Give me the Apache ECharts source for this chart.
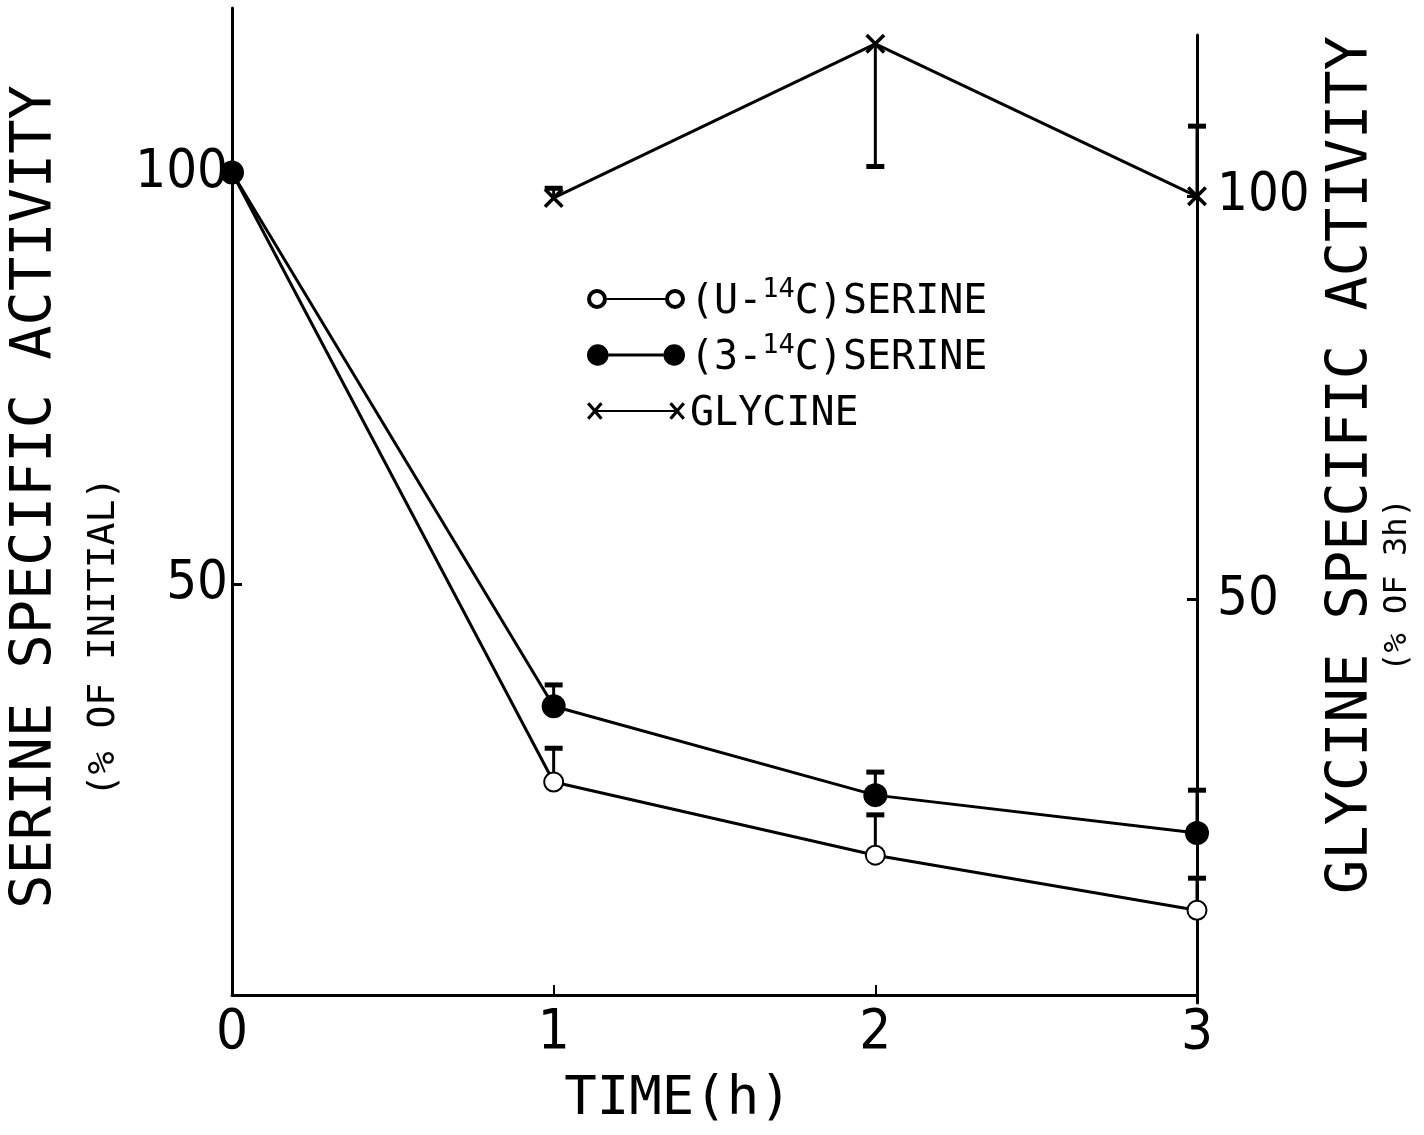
<!DOCTYPE html>
<html><head><meta charset="utf-8">
<script src="https://cdn.jsdelivr.net/npm/echarts@6/dist/echarts.min.js"></script>
<style>html,body{margin:0;padding:0;background:#fff}#c{width:1424px;height:1135px}</style>
</head><body><div id="c"></div>
<script>
// ---- data ----
const times = [0, 1, 2, 3];
const uSerine = [100, 25.9, 17.0, 10.3];
const uSerineErrTop = [null, 30.0, 21.9, 14.2];
const s3Serine = [100, 35.1, 24.3, 19.7];
const s3SerineErrTop = [null, 37.7, 27.1, 24.9];
const glyTimes = [1, 2, 3];
const glycine = [99.8, 118.9, 100.0];
const glycineErrEnd = [101.0, 103.7, 108.7];
const xTickValues = [0, 1, 2, 3];
const xInnerTicks = [1, 2];
const leftTickLabels = [50, 100];
const rightTickLabels = [50, 100];
const seriesNames = ['(U-14C)SERINE', '(3-14C)SERINE', 'GLYCINE'];
const legendRich = ['{t|(U-}{sup|14}{t|C)SERINE}', '{t|(3-}{sup|14}{t|C)SERINE}', '{t|GLYCINE}'];

// ---- styles ----
const MONO = "'DejaVu Sans Mono', monospace";
const NARROW = "'Liberation Sans Narrow', 'DejaVu Sans Condensed', 'DejaVu Sans', sans-serif";
const X_PATH = 'path://M0 1.5 L1.5 0 L6 4.5 L10.5 0 L12 1.5 L7.5 6 L12 10.5 L10.5 12 L6 7.5 L1.5 12 L0 10.5 L4.5 6 Z';
const RING_ICON = 'path://M1 11 A10 10 0 1 1 21 11 A10 10 0 1 1 1 11 Z M5 11 A6 6 0 1 0 17 11 A6 6 0 1 0 5 11 Z ' +
  'M21 10 L79 10 L79 12 L21 12 Z ' +
  'M79 11 A10 10 0 1 1 99 11 A10 10 0 1 1 79 11 Z M83 11 A6 6 0 1 0 95 11 A6 6 0 1 0 83 11 Z';
const DOT_ICON = 'path://M0 11 A11 11 0 1 1 22 11 A11 11 0 1 1 0 11 Z ' +
  'M22 9.5 L78 9.5 L78 12.5 L22 12.5 Z ' +
  'M78 11 A11 11 0 1 1 100 11 A11 11 0 1 1 78 11 Z';
const CROSS_ICON = 'path://M0 4 L2.5 2 L8 8.5 L13.5 2 L16 4 L10 11 L16 18 L13.5 20 L8 13.5 L2.5 20 L0 18 L6 11 Z ' +
  'M10 10 L90 10 L90 12 L10 12 Z ' +
  'M84 4 L86.5 2 L92 8.5 L97.5 2 L100 4 L94 11 L100 18 L97.5 20 L92 13.5 L86.5 20 L84 18 L90 11 Z';

const pairs = (xs, ys) => xs.map((x, i) => [x, ys[i]]);
const errs = (xs, ys, es) => xs.map((x, i) => es[i] == null ? null : [x, ys[i], es[i]]).filter(Boolean);

function errRender(params, api) {
  const p0 = api.coord([api.value(0), api.value(1)]);
  const p1 = api.coord([api.value(0), api.value(2)]);
  return {
    type: 'group',
    children: [
      { type: 'line', shape: { x1: p0[0], y1: p0[1], x2: p1[0], y2: p1[1] }, style: { stroke: '#000', lineWidth: 3 } },
      { type: 'line', shape: { x1: p1[0] - 9, y1: p1[1], x2: p1[0] + 9, y2: p1[1] }, style: { stroke: '#000', lineWidth: 5 } }
    ]
  };
}

const chart = echarts.init(document.getElementById('c'), null, { renderer: 'canvas' });
const axisLine = { show: true, onZero: false, lineStyle: { color: '#000', width: 3 } };

chart.setOption({
  backgroundColor: '#fff',
  animation: false,
  grid: [
    { left: 232, right: 227, top: 8, bottom: 140, containLabel: false, outerBoundsMode: 'none' },
    { left: 232, right: 227, top: 35, bottom: 132, containLabel: false, outerBoundsMode: 'none' }
  ],
  xAxis: [
    {
      gridIndex: 0, type: 'value', min: 0, max: 3, interval: 1,
      axisLine: axisLine,
      axisTick: { show: true, inside: true, length: 10, customValues: xInnerTicks, lineStyle: { color: '#000', width: 2 } },
      splitLine: { show: false },
      axisLabel: { margin: 10, color: '#000', fontFamily: NARROW, fontSize: 56, customValues: xTickValues, formatter: v => String(v) }
    },
    { gridIndex: 1, type: 'value', min: 0, max: 3, show: false }
  ],
  yAxis: [
    {
      gridIndex: 0, type: 'value', position: 'left', min: 0, max: 120, interval: 50,
      axisLine: axisLine,
      axisTick: { show: true, inside: true, length: 10, customValues: leftTickLabels, lineStyle: { color: '#000', width: 3 } },
      splitLine: { show: false },
      axisLabel: { margin: 4, color: '#000', fontFamily: NARROW, fontSize: 54, customValues: leftTickLabels,
        formatter: v => String(v) }
    },
    {
      gridIndex: 1, type: 'value', position: 'right', min: 0, max: 120, interval: 50,
      axisLine: axisLine,
      axisTick: { show: true, inside: true, length: 10, customValues: rightTickLabels, lineStyle: { color: '#000', width: 3 } },
      splitLine: { show: false },
      axisLabel: { margin: 20, color: '#000', fontFamily: NARROW, fontSize: 54, customValues: rightTickLabels,
        formatter: v => String(v) }
    }
  ],
  legend: {
    orient: 'vertical', left: 582, top: 270,
    itemWidth: 98, itemHeight: 22, itemGap: 8,
    itemStyle: { color: '#000', borderWidth: 0 },
    data: [
      { name: seriesNames[0], icon: RING_ICON },
      { name: seriesNames[1], icon: DOT_ICON },
      { name: seriesNames[2], icon: CROSS_ICON }
    ],
    formatter: n => legendRich[seriesNames.indexOf(n)],
    textStyle: {
      color: '#000', fontFamily: MONO, fontSize: 40,
      rich: {
        t: { fontFamily: MONO, fontSize: 40, lineHeight: 46, color: '#000', padding: [8, 0, 0, 0] },
        sup: { fontFamily: MONO, fontSize: 27, lineHeight: 27, color: '#000', verticalAlign: 'top' }
      }
    }
  },
  series: [
    {
      name: seriesNames[0], type: 'line', xAxisIndex: 0, yAxisIndex: 0, z: 4,
      data: pairs(times, uSerine),
      symbol: 'emptyCircle', symbolSize: 19,
      lineStyle: { color: '#000', width: 3 },
      itemStyle: { color: '#000', borderColor: '#000', borderWidth: 4 }
    },
    {
      name: seriesNames[1], type: 'line', xAxisIndex: 0, yAxisIndex: 0, z: 4,
      data: pairs(times, s3Serine),
      symbol: 'circle', symbolSize: 24,
      lineStyle: { color: '#000', width: 3 },
      itemStyle: { color: '#000' }
    },
    {
      name: seriesNames[2], type: 'line', xAxisIndex: 1, yAxisIndex: 1, z: 4,
      data: pairs(glyTimes, glycine),
      symbol: X_PATH, symbolSize: 20,
      lineStyle: { color: '#000', width: 3 },
      itemStyle: { color: '#000' }
    },
    { type: 'custom', xAxisIndex: 0, yAxisIndex: 0, z: 3, clip: false, renderItem: errRender,
      encode: { x: 0, y: [1, 2] }, data: errs(times, uSerine, uSerineErrTop) },
    { type: 'custom', xAxisIndex: 0, yAxisIndex: 0, z: 3, clip: false, renderItem: errRender,
      encode: { x: 0, y: [1, 2] }, data: errs(times, s3Serine, s3SerineErrTop) },
    { type: 'custom', xAxisIndex: 1, yAxisIndex: 1, z: 3, clip: false, renderItem: errRender,
      encode: { x: 0, y: [1, 2] }, data: errs(glyTimes, glycine, glycineErrEnd) }
  ],
  graphic: [
    { type: 'text', x: 36, y: 497, rotation: Math.PI / 2,
      style: { text: 'SERINE SPECIFIC ACTIVITY', fontFamily: MONO, fontSize: 57, fill: '#000', align: 'center', verticalAlign: 'middle' } },
    { type: 'text', x: 104, y: 637, rotation: Math.PI / 2,
      style: { text: '(% OF INITIAL)', fontFamily: MONO, fontSize: 38, fill: '#000', align: 'center', verticalAlign: 'middle' } },
    { type: 'text', x: 1352, y: 465, rotation: Math.PI / 2,
      style: { text: 'GLYCINE SPECIFIC ACTIVITY', fontFamily: MONO, fontSize: 57, fill: '#000', align: 'center', verticalAlign: 'middle' } },
    { type: 'text', x: 1398, y: 585, rotation: Math.PI / 2,
      style: { text: '(% OF 3h)', fontFamily: MONO, fontSize: 32, fill: '#000', align: 'center', verticalAlign: 'middle' } },
    { type: 'text', x: 678, y: 1100,
      style: { text: 'TIME(h)', fontFamily: MONO, fontSize: 54, fill: '#000', align: 'center', verticalAlign: 'middle' } }
  ]
});
</script>
</body></html>
